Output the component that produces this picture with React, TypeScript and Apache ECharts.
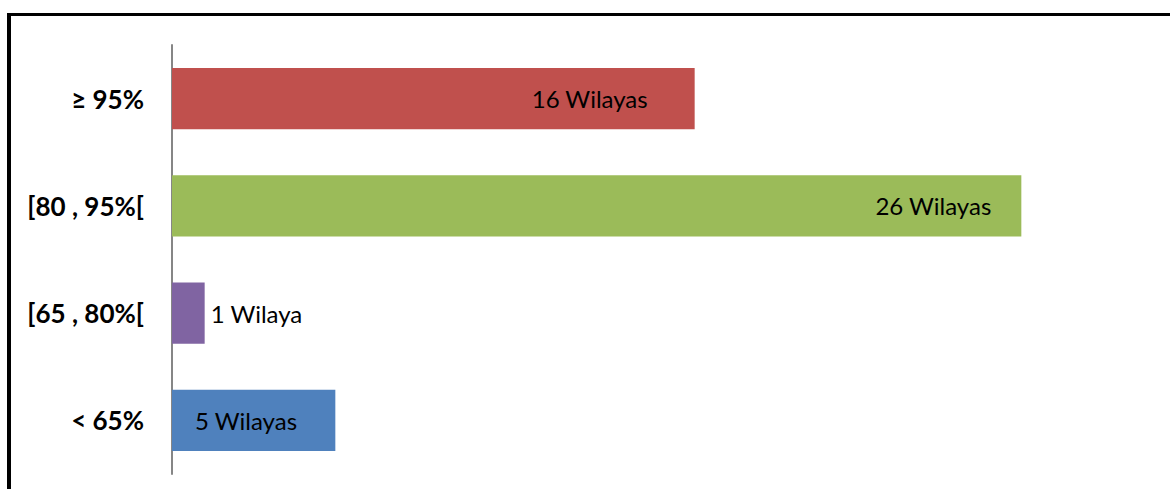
import React, { useEffect, useRef } from "react";
import * as echarts from "echarts";

const categories = ["< 65%", "[65 , 80%[", "[80 , 95%[", "≥ 95%"];
const values = [5, 1, 26, 16];
const labels = ["5 Wilayas", "1 Wilaya", "26 Wilayas", "16 Wilayas"];
const colors = ["#4F81BD", "#8064A2", "#9BBB59", "#C0504D"];

export default function App() {
  const ref = useRef<HTMLDivElement>(null);
  useEffect(() => {
    if (!ref.current) return;
    const chart = echarts.init(ref.current, null, { renderer: "svg" });
    const labelCfg = [
      { position: "insideLeft", distance: 23 },
      { position: "right", distance: 6 },
      { position: "insideRight", distance: 30 },
      { position: "insideRight", distance: 47 },
    ];
    chart.setOption({
      animation: false,
      grid: { left: 172, right: 18, top: 45, height: 429, containLabel: false },
      xAxis: {
        type: "value",
        min: 0,
        max: 30,
        show: false,
      },
      yAxis: {
        type: "category",
        data: categories,
        axisLine: { show: true, lineStyle: { color: "#868686", width: 2 } },
        axisTick: { show: false },
        axisLabel: {
          color: "#000",
          fontFamily: "Lato",
          fontWeight: "bold",
          fontSize: 26,
          margin: 28,
        },
      },
      series: [
        {
          type: "bar",
          barCategoryGap: "43%",
          data: values.map((v, i) => ({
            value: v,
            itemStyle: { color: colors[i] },
            label: {
              show: true,
              position: labelCfg[i].position,
              distance: labelCfg[i].distance,
              formatter: labels[i],
              color: "#000",
              fontFamily: "Lato",
              fontSize: 24,
            },
          })),
        },
      ],
      graphic: [
        {
          type: "line",
          shape: { x1: 9, y1: 13, x2: 9, y2: 500 },
          style: { stroke: "#000", lineWidth: 4 },
        },
        {
          type: "line",
          shape: { x1: 7, y1: 14.5, x2: 1180, y2: 14.5 },
          style: { stroke: "#000", lineWidth: 3 },
        },
      ],
    });
    return () => chart.dispose();
  }, []);
  return (
    <div
      ref={ref}
      style={{ position: "fixed", left: 0, top: 0, width: 1170, height: 489, background: "#fff" }}
    />
  );
}
